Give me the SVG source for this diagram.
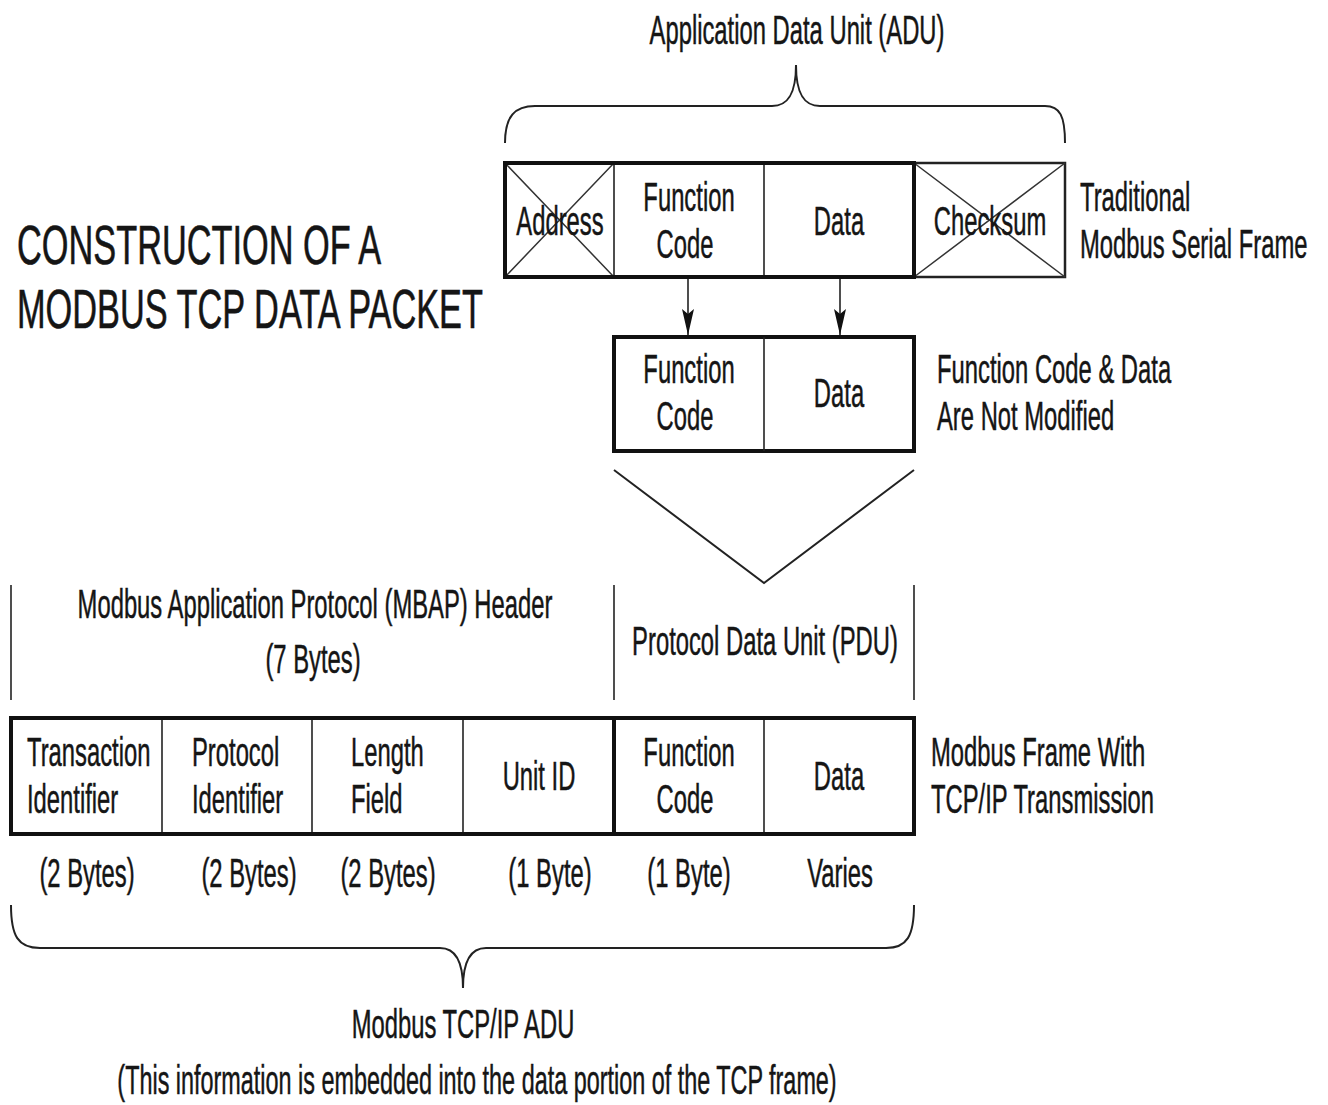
<svg xmlns="http://www.w3.org/2000/svg" width="1328" height="1105" viewBox="0 0 1328 1105">
<style>
.t{font-family:"Liberation Sans",Arial,sans-serif;font-size:40px;fill:#151515;stroke:#151515;stroke-width:0.5}
.m{text-anchor:middle}
.ti{font-size:56px;stroke-width:0.6}
.thick{fill:none;stroke:#111;stroke-width:4}
.med{fill:none;stroke:#222;stroke-width:2.5}
.thin{fill:none;stroke:#222;stroke-width:1.6}
.xl{fill:none;stroke:#333;stroke-width:1.5}
.br{fill:none;stroke:#222;stroke-width:2}
</style>
<defs>
<marker id="ah" viewBox="0 0 26 12" refX="26" refY="6" markerWidth="26" markerHeight="12" markerUnits="userSpaceOnUse" orient="auto">
<path d="M0,0 L26,6 L0,12 L5,6 z" fill="#111"/>
</marker>
</defs>
<rect width="1328" height="1105" fill="#fff"/>

<g id="title">
<text class="t ti" transform="translate(17 264) scale(0.613 1)">CONSTRUCTION OF A</text>
<text class="t ti" transform="translate(17 328) scale(0.613 1)">MODBUS TCP DATA PACKET</text>
</g>

<g id="adu-label">
<text class="t m" transform="translate(797 44) scale(0.595 1)">Application Data Unit (ADU)</text>
</g>

<g id="serial-frame">
<g id="cell-address">
<rect x="505" y="163" width="109" height="114" class="thin"/>
<path d="M505,163 L614,277 M614,163 L505,277" class="xl"/>
<text class="t m" transform="translate(560 235) scale(0.595 1)">Address</text>
</g>
<g id="cell-checksum">
<rect x="914" y="163" width="151" height="114" class="med"/>
<path d="M914,163 L1065,277 M1065,163 L914,277" class="xl"/>
<text class="t m" transform="translate(990 235) scale(0.595 1)">Checksum</text>
</g>
<g id="cell-fc1">
<text class="t m" transform="translate(689 211) scale(0.595 1)">Function</text>
<text class="t m" transform="translate(685 258) scale(0.595 1)">Code</text>
</g>
<g id="cell-data1">
<line x1="764" y1="163" x2="764" y2="277" class="thin"/>
<text class="t m" transform="translate(839 235) scale(0.595 1)">Data</text>
</g>
<rect x="505" y="163" width="409" height="114" class="thick"/>
<text class="t" transform="translate(1080 211) scale(0.595 1)">Traditional</text>
<text class="t" transform="translate(1080 258) scale(0.595 1)">Modbus Serial Frame</text>
</g>

<g id="pdu-frame">
<rect x="614" y="337" width="300" height="114" class="thick"/>
<line x1="764" y1="337" x2="764" y2="451" class="thin"/>
<text class="t m" transform="translate(689 383) scale(0.595 1)">Function</text>
<text class="t m" transform="translate(685 430) scale(0.595 1)">Code</text>
<text class="t m" transform="translate(839 407) scale(0.595 1)">Data</text>
<text class="t" transform="translate(937 383) scale(0.595 1)">Function Code &amp; Data</text>
<text class="t" transform="translate(937 430) scale(0.595 1)">Are Not Modified</text>
</g>

<g id="headers">
<text class="t m" transform="translate(315 618) scale(0.595 1)">Modbus Application Protocol (MBAP) Header</text>
<text class="t m" transform="translate(313 673) scale(0.595 1)">(7 Bytes)</text>
<text class="t m" transform="translate(765 655) scale(0.595 1)">Protocol Data Unit (PDU)</text>
</g>

<g id="tcp-frame">
<line x1="162" y1="718" x2="162" y2="834" class="thin"/>
<line x1="312" y1="718" x2="312" y2="834" class="thin"/>
<line x1="463" y1="718" x2="463" y2="834" class="thin"/>
<line x1="764" y1="718" x2="764" y2="834" class="thin"/>
<rect x="11" y="718" width="603" height="116" class="thick"/>
<rect x="614" y="718" width="300" height="116" class="thick"/>
<g id="cell-transaction">
<text class="t" transform="translate(27 766) scale(0.595 1)">Transaction</text>
<text class="t" transform="translate(27 813) scale(0.595 1)">Identifier</text>
</g>
<g id="cell-protocol">
<text class="t" transform="translate(192 766) scale(0.595 1)">Protocol</text>
<text class="t" transform="translate(192 813) scale(0.595 1)">Identifier</text>
</g>
<g id="cell-length">
<text class="t" transform="translate(351 766) scale(0.595 1)">Length</text>
<text class="t" transform="translate(351 813) scale(0.595 1)">Field</text>
</g>
<g id="cell-unit">
<text class="t m" transform="translate(539 790) scale(0.595 1)">Unit ID</text>
</g>
<g id="cell-fc3">
<text class="t m" transform="translate(689 766) scale(0.595 1)">Function</text>
<text class="t m" transform="translate(685 813) scale(0.595 1)">Code</text>
</g>
<g id="cell-data3">
<text class="t m" transform="translate(839 790) scale(0.595 1)">Data</text>
</g>
<text class="t" transform="translate(931 766) scale(0.595 1)">Modbus Frame With</text>
<text class="t" transform="translate(931 813) scale(0.595 1)">TCP/IP Transmission</text>
</g>

<g id="sizes">
<text class="t m" transform="translate(87 887) scale(0.595 1)">(2 Bytes)</text>
<text class="t m" transform="translate(249 887) scale(0.595 1)">(2 Bytes)</text>
<text class="t m" transform="translate(388 887) scale(0.595 1)">(2 Bytes)</text>
<text class="t m" transform="translate(550 887) scale(0.595 1)">(1 Byte)</text>
<text class="t m" transform="translate(689 887) scale(0.595 1)">(1 Byte)</text>
<text class="t m" transform="translate(840 887) scale(0.595 1)">Varies</text>
</g>

<g id="tcp-adu-label">
<text class="t m" transform="translate(463 1038) scale(0.595 1)">Modbus TCP/IP ADU</text>
<text class="t m" transform="translate(477 1094) scale(0.585 1)">(This information is embedded into the data portion of the TCP frame)</text>
</g>

<g id="connectors">
<path class="br" d="M505,143 C505,116 515,106 535,106 L772,106 C789,106 796,92 796,65 C796,92 803,106 820,106 L1045,106 C1060,106 1065,116 1065,143"/>
<line x1="688" y1="279" x2="688" y2="335" class="thin" marker-end="url(#ah)"/>
<line x1="840" y1="279" x2="840" y2="335" class="thin" marker-end="url(#ah)"/>
<path class="br" d="M614,470 L764,583 L914,470"/>
<line x1="11" y1="585" x2="11" y2="700" class="thin"/>
<line x1="614" y1="585" x2="614" y2="700" class="thin"/>
<line x1="914" y1="585" x2="914" y2="700" class="thin"/>
<path class="br" d="M11,905 C11,936 18,948 40,948 L440,948 C456,948 463,962 463,988 C463,962 470,948 486,948 L886,948 C907,948 914,936 914,905"/>
</g>
</svg>
